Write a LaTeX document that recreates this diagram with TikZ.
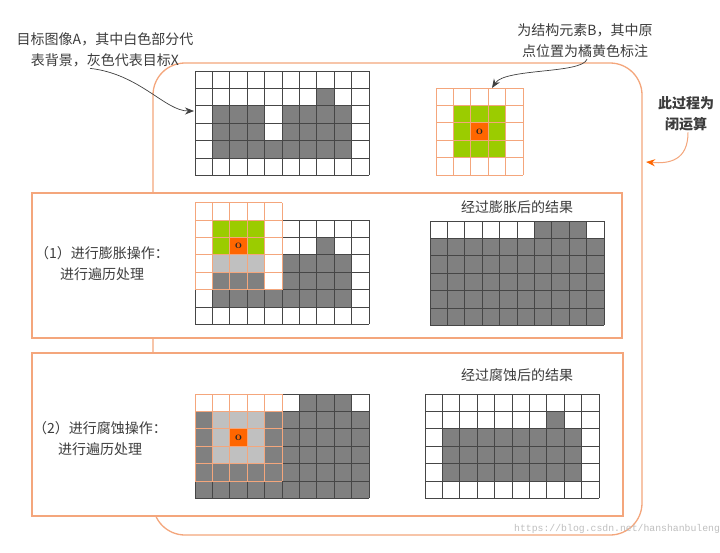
\documentclass[tikz,border=0pt]{standalone}
\usepackage{fontspec}
\newfontfamily\cjk{Noto Sans CJK SC}
\newfontfamily\wmfont{Liberation Mono}
\usetikzlibrary{arrows.meta}
\definecolor{cellgray}{RGB}{128,128,128}
\definecolor{lightg}{RGB}{192,192,192}
\definecolor{segreen}{RGB}{155,204,0}
\definecolor{seorange}{RGB}{255,102,0}
\definecolor{oline}{RGB}{244,166,124}
\definecolor{txt}{RGB}{60,60,60}
\definecolor{gline}{RGB}{70,70,70}
\newcommand{\cellsz}{17.4}
\newcommand{\fillcell}[3]{\fill[#1] (#2*\cellsz,#3*\cellsz) rectangle ++(\cellsz,\cellsz);}
\newcommand{\gridlines}[5]{%
  \foreach \ii in {0,...,#4} \draw[#1] (#2*\cellsz+\ii*\cellsz,#3*\cellsz) -- ++(0,#5*\cellsz);
  \foreach \jj in {0,...,#5} \draw[#1] (#2*\cellsz,#3*\cellsz+\jj*\cellsz) -- ++(#4*\cellsz,0);
}
\tikzset{
  gl/.style={draw=gline,line width=0.8pt},
  ol/.style={draw=oline,line width=0.8pt},
  frame/.style={draw=oline,line width=1.3pt},
  lbl/.style={text=txt,font=\cjk\fontsize{14}{21}\selectfont,align=center,inner sep=1pt},
  ptr/.style={draw=black!75,line width=0.7pt,-{Stealth[length=9pt,width=7pt]}},
  optr/.style={draw=oline,line width=1pt,-{Stealth[length=9pt,width=7pt,color=seorange]}},
  ctr/.style={font=\bfseries\fontsize{12}{12}\selectfont,text=black!85,inner sep=0pt}
}
\begin{document}
\begin{tikzpicture}[x=1pt,y=-1pt]
\useasboundingbox (0,0) rectangle (720,552);
\fill[white] (0,0) rectangle (720,552);
% big closing frame
\draw[frame,rounded corners=32pt] (153,63) rectangle (642,535);
% process boxes
\draw[frame,fill=white] (32,193) rectangle (622,338);
\draw[frame,fill=white] (32,353) rectangle (623,516);

% ---------- target image A ----------
\begin{scope}[shift={(195,71)}]
  \fill[white] (0,0) rectangle (10*\cellsz,6*\cellsz);
  \foreach \cc/\rr in {7/1,1/2,2/2,3/2,5/2,6/2,7/2,8/2,1/3,2/3,3/3,5/3,6/3,7/3,8/3}
    {\fillcell{cellgray}{\cc}{\rr}}
  \foreach \cc in {1,...,8} {\fillcell{cellgray}{\cc}{4}}
  \gridlines{gl}{0}{0}{10}{6}
\end{scope}

% ---------- structuring element B ----------
\begin{scope}[shift={(436,88)}]
  \foreach \cc in {1,2,3} \foreach \rr in {1,2,3} {\fillcell{segreen}{\cc}{\rr}}
  \fillcell{seorange}{2}{2}
  \gridlines{ol}{0}{0}{5}{5}
  \node[ctr] (o0) at (2.5*\cellsz,2.5*\cellsz) {o};
\end{scope}

% ---------- dilation process ----------
\begin{scope}[shift={(195,220)}]
  \fill[white] (0,-\cellsz) rectangle (10*\cellsz,6*\cellsz);
  \foreach \cc/\rr in {7/1,1/2,2/2,3/2,5/2,6/2,7/2,8/2,1/3,2/3,3/3,5/3,6/3,7/3,8/3}
    {\fillcell{cellgray}{\cc}{\rr}}
  \foreach \cc in {1,...,8} {\fillcell{cellgray}{\cc}{4}}
  \gridlines{gl}{0}{0}{10}{6}
  \foreach \cc in {1,2,3} \foreach \rr in {0,1} {\fillcell{segreen}{\cc}{\rr}}
  \foreach \cc in {1,2,3} {\fillcell{lightg}{\cc}{2}}
  \fillcell{seorange}{2}{1}
  \gridlines{ol}{0}{-1}{5}{5}
  \node[ctr] (o1) at (2.5*\cellsz,1.5*\cellsz) {o};
\end{scope}

% ---------- dilation result ----------
\begin{scope}[shift={(430,221)}]
  \fill[white] (0,0) rectangle (10*\cellsz,6*\cellsz);
  \foreach \cc in {6,7,8} {\fillcell{cellgray}{\cc}{0}}
  \foreach \cc in {0,...,9} \foreach \rr in {1,...,5} {\fillcell{cellgray}{\cc}{\rr}}
  \gridlines{gl}{0}{0}{10}{6}
\end{scope}

% ---------- erosion process ----------
\begin{scope}[shift={(195,394)}]
  \fill[white] (0,0) rectangle (10*\cellsz,6*\cellsz);
  \foreach \cc in {6,7,8} {\fillcell{cellgray}{\cc}{0}}
  \foreach \cc in {0,...,9} \foreach \rr in {1,...,5} {\fillcell{cellgray}{\cc}{\rr}}
  \gridlines{gl}{0}{0}{10}{6}
  \foreach \cc in {1,2,3} \foreach \rr in {1,2,3} {\fillcell{lightg}{\cc}{\rr}}
  \fillcell{seorange}{2}{2}
  \gridlines{ol}{0}{0}{5}{5}
  \node[ctr] (o2) at (2.5*\cellsz,2.5*\cellsz) {o};
\end{scope}

% ---------- erosion result ----------
\begin{scope}[shift={(425,394)}]
  \fill[white] (0,0) rectangle (10*\cellsz,6*\cellsz);
  \fillcell{cellgray}{7}{1}
  \foreach \cc in {1,...,8} \foreach \rr in {2,3,4} {\fillcell{cellgray}{\cc}{\rr}}
  \gridlines{gl}{0}{0}{10}{6}
\end{scope}

% ---------- labels ----------
\node[lbl] (ta) at (105,50) {目标图像A，其中白色部分代\\表背景，灰色代表目标X};
\node[lbl] (tb) at (585,41) {为结构元素B，其中原\\点位置为橘黄色标注};
\node[lbl,font=\cjk\bfseries\fontsize{14}{21}\selectfont] (tc) at (686,114) {此过程为\\闭运算};
\node[lbl] (t1) at (102,264) {（1）进行膨胀操作：\\进行遍历处理};
\node[lbl] (t2) at (100,439) {（2）进行腐蚀操作：\\进行遍历处理};
\node[lbl] (r1) at (517,207) {经过膨胀后的结果};
\node[lbl] (r2) at (517,375) {经过腐蚀后的结果};
\node[anchor=west,inner sep=0pt,text=black!25,font=\wmfont\fontsize{9.8}{10}\selectfont] (wm) at (514,529) {https://blog.csdn.net/hanshanbuleng};

% ---------- pointers ----------
\coordinate (pA) at (194,111);
\coordinate (pB) at (492,88);
\coordinate (pC) at (646,162);
\draw[ptr] ([xshift=-15pt]ta.south) .. controls (140,74) and (165,111) .. (pA);
\draw[ptr] ([xshift=2pt]tb.south) .. controls (582,74) and (505,68) .. (pB);
\draw[optr] ([xshift=2pt]tc.south) .. controls (688,160) and (670,164) .. (pC);
\end{tikzpicture}
\end{document}
